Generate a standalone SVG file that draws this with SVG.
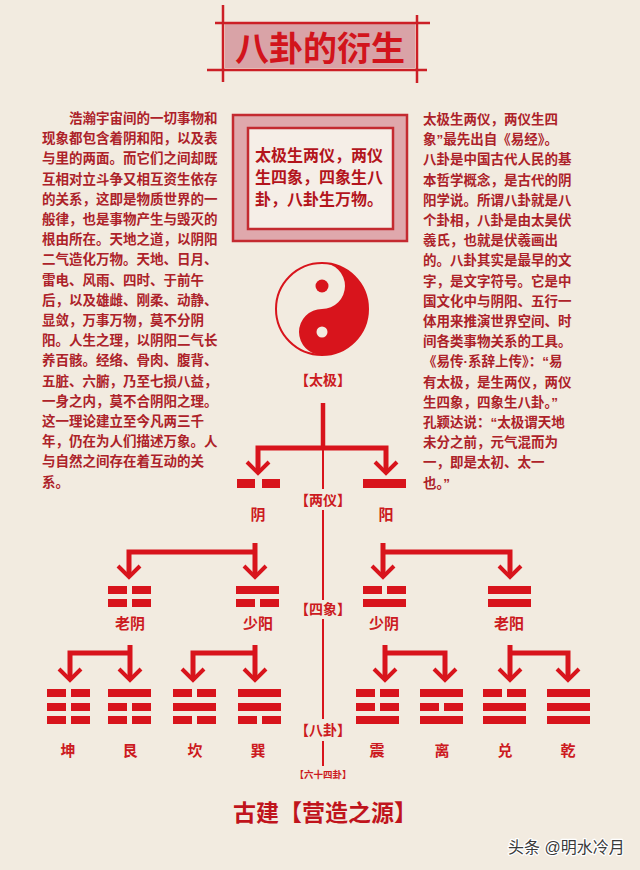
<svg xmlns="http://www.w3.org/2000/svg" xmlns:xlink="http://www.w3.org/1999/xlink" width="640" height="870" viewBox="0 0 640 870">
<style>
text{font-family:"Liberation Sans","Noto Sans CJK SC",sans-serif;}
.body{font-size:13.5px;font-weight:bold;fill:#ad2229;}
.lbl{font-size:15px;font-weight:bold;fill:#cc1a21;text-anchor:middle;}
.lvl{font-size:14px;font-weight:bold;fill:#cc1a21;text-anchor:middle;}
.bar{fill:#d8141c;}
.conn{fill:none;stroke:#d8141c;stroke-width:5;stroke-linejoin:miter;}
.chev{fill:none;stroke:#d8141c;stroke-width:4;stroke-linejoin:miter;}
.thin{stroke:#d8141c;stroke-width:2;}
.tline{stroke:#cc1f26;stroke-width:2.5;}
</style>
<defs>
<g id="yang"><rect class="bar" x="0" y="0" width="43" height="8"/></g>
<g id="yin"><rect class="bar" x="0" y="0" width="19" height="8"/><rect class="bar" x="24" y="0" width="19" height="8"/></g>
<path id="arr" class="chev" d="M-11 -11 L0 0 L11 -11"/>
</defs>
<rect width="640" height="870" fill="#f2ebe0"/>

<g id="title">
<rect x="225" y="24" width="190" height="44" fill="#d9a3a7"/>
<line class="tline" x1="215" y1="23" x2="430" y2="23"/>
<line class="tline" x1="207" y1="70" x2="427" y2="70"/>
<line class="tline" x1="223" y1="5" x2="223" y2="82"/>
<line class="tline" x1="417" y1="15" x2="417" y2="83"/>
<text x="320" y="61" text-anchor="middle" font-size="34" font-weight="bold" fill="#d2141c">八卦的衍生</text>
</g>

<g id="left-text">
<text class="body">
<tspan x="69" y="123">浩瀚宇宙间的一切事物和</tspan>
<tspan x="42" dy="20.2">现象都包含着阴和阳，以及表</tspan>
<tspan x="42" dy="20.2">与里的两面。而它们之间却既</tspan>
<tspan x="42" dy="20.2">互相对立斗争又相互资生依存</tspan>
<tspan x="42" dy="20.2">的关系，这即是物质世界的一</tspan>
<tspan x="42" dy="20.2">般律，也是事物产生与毁灭的</tspan>
<tspan x="42" dy="20.2">根由所在。天地之道，以阴阳</tspan>
<tspan x="42" dy="20.2">二气造化万物。天地、日月、</tspan>
<tspan x="42" dy="20.2">雷电、风雨、四时、于前午</tspan>
<tspan x="42" dy="20.2">后，以及雄雌、刚柔、动静、</tspan>
<tspan x="42" dy="20.2">显敛，万事万物，莫不分阴</tspan>
<tspan x="42" dy="20.2">阳。人生之理，以阴阳二气长</tspan>
<tspan x="42" dy="20.2">养百骸。经络、骨肉、腹背、</tspan>
<tspan x="42" dy="20.2">五脏、六腑，乃至七损八益，</tspan>
<tspan x="42" dy="20.2">一身之内，莫不合阴阳之理。</tspan>
<tspan x="42" dy="20.2">这一理论建立至今凡两三千</tspan>
<tspan x="42" dy="20.2">年，仍在为人们描述万象。人</tspan>
<tspan x="42" dy="20.2">与自然之间存在着互动的关</tspan>
<tspan x="42" dy="20.2">系。</tspan>
</text>
</g>

<g id="right-text">
<text class="body">
<tspan x="423" y="124">太极生两仪，两仪生四</tspan>
<tspan x="423" dy="20.2">象”最先出自《易经》。</tspan>
<tspan x="423" dy="20.2">八卦是中国古代人民的基</tspan>
<tspan x="423" dy="20.2">本哲学概念，是古代的阴</tspan>
<tspan x="423" dy="20.2">阳学说。所谓八卦就是八</tspan>
<tspan x="423" dy="20.2">个卦相，八卦是由太昊伏</tspan>
<tspan x="423" dy="20.2">羲氏，也就是伏羲画出</tspan>
<tspan x="423" dy="20.2">的。八卦其实是最早的文</tspan>
<tspan x="423" dy="20.2">字，是文字符号。它是中</tspan>
<tspan x="423" dy="20.2">国文化中与阴阳、五行一</tspan>
<tspan x="423" dy="20.2">体用来推演世界空间、时</tspan>
<tspan x="423" dy="20.2">间各类事物关系的工具。</tspan>
<tspan x="423" dy="20.2">《易传·系辞上传》：“易</tspan>
<tspan x="423" dy="20.2">有太极，是生两仪，两仪</tspan>
<tspan x="423" dy="20.2">生四象，四象生八卦。”</tspan>
<tspan x="423" dy="20.2">孔颖达说：“太极谓天地</tspan>
<tspan x="423" dy="20.2">未分之前，元气混而为</tspan>
<tspan x="423" dy="20.2">一，即是太初、太一</tspan>
<tspan x="423" dy="20.2">也。”</tspan>
</text>
</g>

<g id="quote-box">
<rect x="233" y="115" width="174" height="126" fill="#dfa8ac" stroke="#c42a30" stroke-width="2.5"/>
<rect x="248" y="128" width="145" height="101" fill="#f5eee7" stroke="#c42a30" stroke-width="2.5"/>
<text font-size="16" font-weight="bold" fill="#b3141c">
<tspan x="255" y="161">太极生两仪，两仪</tspan>
<tspan x="255" y="183">生四象，四象生八</tspan>
<tspan x="255" y="205">卦，八卦生万物。</tspan>
</text>
</g>

<g id="taiji">
<circle cx="322" cy="309" r="46" fill="#f2ebe0" stroke="#d8141c" stroke-width="2"/>
<path d="M322 263 A46 46 0 0 1 322 355 A23 23 0 0 1 322 309 A23 23 0 0 0 322 263 Z" fill="#d8141c"/>
<circle cx="322" cy="286" r="6.5" fill="#d8141c"/>
<circle cx="322" cy="332" r="5.5" fill="#f2ebe0"/>
<text class="lvl" x="323" y="385">【太极】</text>
</g>

<g id="connectors">
<line x1="323" y1="403" x2="323" y2="450" stroke="#d8141c" stroke-width="4.5"/>
<path class="conn" d="M258 472 V448 H386 V472"/>
<line class="thin" x1="323" y1="448" x2="323" y2="489"/>
<line class="thin" x1="323" y1="510" x2="323" y2="600"/>
<line class="thin" x1="323" y1="619" x2="323" y2="719"/>
<line class="thin" x1="323" y1="741" x2="323" y2="766"/>
<path class="conn" d="M255 543 V576 M255 552 H129 V576"/>
<path class="conn" d="M383 543 V576 M383 552 H510 V576"/>
<path class="conn" d="M130 645 V679 M130 653 H70 V679"/>
<path class="conn" d="M255 645 V679 M255 653 H193 V679"/>
<path class="conn" d="M385 645 V679 M385 653 H445 V679"/>
<path class="conn" d="M510 645 V679 M510 653 H568 V679"/>
<use xlink:href="#arr" x="258" y="473"/>
<use xlink:href="#arr" x="386" y="473"/>
<use xlink:href="#arr" x="129" y="577"/>
<use xlink:href="#arr" x="255" y="577"/>
<use xlink:href="#arr" x="383" y="577"/>
<use xlink:href="#arr" x="510" y="577"/>
<use xlink:href="#arr" x="70" y="680"/>
<use xlink:href="#arr" x="130" y="680"/>
<use xlink:href="#arr" x="193" y="680"/>
<use xlink:href="#arr" x="255" y="680"/>
<use xlink:href="#arr" x="385" y="680"/>
<use xlink:href="#arr" x="445" y="680"/>
<use xlink:href="#arr" x="510" y="680"/>
<use xlink:href="#arr" x="568" y="680"/>
</g>

<g id="liangyi">
<text class="lvl" x="323" y="505">【两仪】</text>
</g>
<g id="yin-node">
<rect class="bar" x="237" y="479" width="18" height="9"/><rect class="bar" x="262" y="479" width="18" height="9"/>
<text class="lbl" x="258" y="520">阴</text>
</g>
<g id="yang-node">
<rect class="bar" x="363" y="479" width="43" height="9"/>
<text class="lbl" x="386" y="520">阳</text>
</g>

<g id="sixiang">
<text class="lvl" x="323" y="614">【四象】</text>
</g>
<g id="laoyin">
<use xlink:href="#yin" x="108" y="586"/><use xlink:href="#yin" x="108" y="599"/>
<text class="lbl" x="130" y="629">老阴</text>
</g>
<g id="shaoyang">
<use xlink:href="#yang" x="236" y="586"/><use xlink:href="#yin" x="236" y="599"/>
<text class="lbl" x="258" y="629">少阳</text>
</g>
<g id="shaoyin">
<use xlink:href="#yin" x="363" y="586"/><use xlink:href="#yang" x="363" y="599"/>
<text class="lbl" x="384" y="629">少阴</text>
</g>
<g id="laoyang">
<use xlink:href="#yang" x="488" y="586"/><use xlink:href="#yang" x="488" y="599"/>
<text class="lbl" x="509" y="629">老阳</text>
</g>

<g id="bagua">
<text class="lvl" x="323" y="735">【八卦】</text>
<text x="323" y="778" text-anchor="middle" font-size="9.5" font-weight="bold" fill="#cc1a21">【六十四卦】</text>
</g>
<g id="kun">
<use xlink:href="#yin" x="47" y="689"/><use xlink:href="#yin" x="47" y="703"/><use xlink:href="#yin" x="47" y="716"/>
<text class="lbl" x="68" y="756">坤</text>
</g>
<g id="gen">
<use xlink:href="#yang" x="108" y="689"/><use xlink:href="#yin" x="108" y="703"/><use xlink:href="#yin" x="108" y="716"/>
<text class="lbl" x="130" y="756">艮</text>
</g>
<g id="kan">
<use xlink:href="#yin" x="173" y="689"/><use xlink:href="#yang" x="173" y="703"/><use xlink:href="#yin" x="173" y="716"/>
<text class="lbl" x="195" y="756">坎</text>
</g>
<g id="xun">
<use xlink:href="#yang" x="238" y="689"/><use xlink:href="#yang" x="238" y="703"/><use xlink:href="#yin" x="238" y="716"/>
<text class="lbl" x="258" y="756">巽</text>
</g>
<g id="zhen">
<use xlink:href="#yin" x="356" y="689"/><use xlink:href="#yin" x="356" y="703"/><use xlink:href="#yang" x="356" y="716"/>
<text class="lbl" x="377" y="756">震</text>
</g>
<g id="li">
<use xlink:href="#yang" x="420" y="689"/><use xlink:href="#yin" x="420" y="703"/><use xlink:href="#yang" x="420" y="716"/>
<text class="lbl" x="442" y="756">离</text>
</g>
<g id="dui">
<use xlink:href="#yin" x="483" y="689"/><use xlink:href="#yang" x="483" y="703"/><use xlink:href="#yang" x="483" y="716"/>
<text class="lbl" x="505" y="756">兑</text>
</g>
<g id="qian">
<use xlink:href="#yang" x="547" y="689"/><use xlink:href="#yang" x="547" y="703"/><use xlink:href="#yang" x="547" y="716"/>
<text class="lbl" x="568" y="756">乾</text>
</g>

<g id="footer">
<text x="233" y="821" font-size="23" font-weight="bold" fill="#c0141c">古建【营造之源】</text>
<text x="508" y="853" font-size="16" fill="#3a3a3a" stroke="#ffffff" stroke-width="2.5" paint-order="stroke" stroke-linejoin="round">头条 @明水冷月</text>
</g>
</svg>
